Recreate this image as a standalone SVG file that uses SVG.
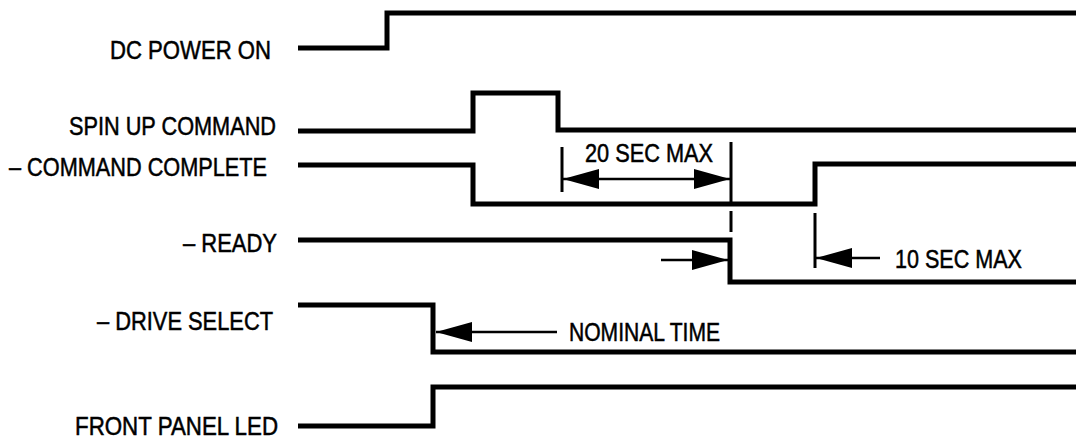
<svg xmlns="http://www.w3.org/2000/svg" width="1076" height="438" viewBox="0 0 1076 438">
<style>
.bg{fill:#fff}
.sig{fill:none;stroke:#000;stroke-width:5;stroke-linejoin:miter;stroke-linecap:butt}
.dim{fill:none;stroke:#000;stroke-width:3}
.shaft{fill:none;stroke:#000;stroke-width:2.5}
text{font-family:"Liberation Sans",Arial,sans-serif;font-size:25px;fill:#000;stroke:#000;stroke-width:0.5}
</style>
<defs>
<marker id="ah" markerUnits="userSpaceOnUse" markerWidth="37" markerHeight="20" refX="36" refY="10" orient="auto-start-reverse" viewBox="0 0 37 20">
<path d="M0,0 L36,10 L0,20 Z" fill="#000"/>
</marker>
</defs>
<rect class="bg" x="0" y="0" width="1076" height="438"/>
<g id="dc-power-on">
<text x="110" y="59" textLength="161" lengthAdjust="spacingAndGlyphs">DC POWER ON</text>
<path class="sig" d="M298,48 H387 V13 H1076"/>
</g>
<g id="spin-up-command">
<text x="69" y="135" textLength="207" lengthAdjust="spacingAndGlyphs">SPIN UP COMMAND</text>
<path class="sig" d="M298,131 H473 V93 H558 V130 H1076"/>
</g>
<g id="command-complete">
<text x="9" y="176" textLength="258" lengthAdjust="spacingAndGlyphs">– COMMAND COMPLETE</text>
<path class="sig" d="M298,165 H473 V204 H815 V164 H1076"/>
</g>
<g id="ready">
<text x="183" y="252" textLength="94" lengthAdjust="spacingAndGlyphs">– READY</text>
<path class="sig" d="M298,240 H730 V282 H1076"/>
</g>
<g id="drive-select">
<text x="97" y="330" textLength="176" lengthAdjust="spacingAndGlyphs">– DRIVE SELECT</text>
<path class="sig" d="M298,305 H433 V352 H1076"/>
</g>
<g id="front-panel-led">
<text x="75" y="435" textLength="203" lengthAdjust="spacingAndGlyphs">FRONT PANEL LED</text>
<path class="sig" d="M298,426 H433 V387 H1076"/>
</g>
<g id="connectors">
<line class="dim" x1="562" y1="147" x2="562" y2="192"/>
<line class="dim" x1="731" y1="142" x2="731" y2="202"/>
<line class="dim" x1="731" y1="211" x2="731" y2="232"/>
<line class="dim" x1="815" y1="213" x2="815" y2="268"/>
<line class="shaft" x1="563" y1="179" x2="730" y2="179" marker-start="url(#ah)" marker-end="url(#ah)"/>
<text x="585" y="162" textLength="128" lengthAdjust="spacingAndGlyphs">20 SEC MAX</text>
<line class="shaft" x1="661" y1="260" x2="728" y2="260" marker-end="url(#ah)"/>
<line class="shaft" x1="880" y1="258" x2="816" y2="258" marker-end="url(#ah)"/>
<text x="895" y="268" textLength="127" lengthAdjust="spacingAndGlyphs">10 SEC MAX</text>
<line class="shaft" x1="557" y1="332" x2="436" y2="332" marker-end="url(#ah)"/>
<text x="569" y="341" textLength="151" lengthAdjust="spacingAndGlyphs">NOMINAL TIME</text>
</g>
</svg>
